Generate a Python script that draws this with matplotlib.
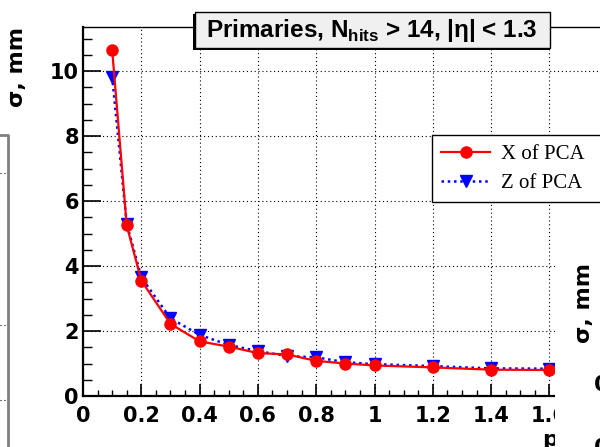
import matplotlib
matplotlib.use('Agg')
import matplotlib.pyplot as plt
from matplotlib.ticker import MultipleLocator, FuncFormatter
from matplotlib.patches import Rectangle
from matplotlib.lines import Line2D

# momentum points and resolution values (mm)
p = [0.1, 0.15, 0.2, 0.3, 0.4, 0.5, 0.6, 0.7, 0.8, 0.9, 1.0, 1.2, 1.4, 1.6]
x_pca = [10.65, 5.25, 3.55, 2.22, 1.68, 1.52, 1.32, 1.28, 1.08, 1.0, 0.94, 0.88, 0.81, 0.8]
z_pca = [9.83, 5.3, 3.65, 2.39, 1.88, 1.57, 1.38, 1.23, 1.19, 1.04, 0.98, 0.92, 0.85, 0.84]
labels = ['X of PCA', 'Z of PCA']
title = 'Primaries, N$_{\\mathbf{hits}}$ > 14, |η| < 1.3'

plt.rcParams['mathtext.fontset'] = 'custom'
plt.rcParams['mathtext.rm'] = 'Liberation Sans'
plt.rcParams['mathtext.bf'] = 'Liberation Sans:bold'

W, H = 600, 447
def fx(px):
    return px / W
def fy(py):
    return 1 - py / H

fig = plt.figure(figsize=(6, 4.47), dpi=100)
ax = fig.add_axes([fx(83), fy(396), (640 - 83) / W, (396 - 27) / H])

ax.plot(p, x_pca, color='red', lw=1.6, marker='o', ms=8, label=labels[0], zorder=4)
ax.plot(p, z_pca, color='blue', lw=1.8, ls=(0, (1, 1.5)), marker='v', ms=9,
        label=labels[1], zorder=3)

ax.set_xlim(0, 557 / 291.5)
ax.set_ylim(0, 369 / 32.5)
ax.xaxis.set_major_locator(MultipleLocator(0.2))
ax.xaxis.set_minor_locator(MultipleLocator(0.05))
ax.yaxis.set_major_locator(MultipleLocator(2))
ax.yaxis.set_minor_locator(MultipleLocator(0.5))
ax.xaxis.set_major_formatter(FuncFormatter(lambda v, pos: '%g' % round(v, 2)))
ax.yaxis.set_major_formatter(FuncFormatter(lambda v, pos: '%g' % round(v, 2)))

ax.grid(True, which='major', color='black', lw=0.8, ls=(0, (1, 2.5)))
ax.tick_params(axis='y', which='major', direction='in', length=13, width=1.2, pad=3)
ax.tick_params(axis='y', which='minor', direction='in', length=6.5, width=1)
ax.tick_params(axis='x', which='major', direction='in', length=8.5, width=1.2, pad=7)
ax.tick_params(axis='x', which='minor', direction='in', length=4.3, width=1)
for lab in ax.get_xticklabels() + ax.get_yticklabels():
    lab.set_fontweight('bold')
    lab.set_fontsize(15)
for s in ['left', 'bottom']:
    ax.spines[s].set_linewidth(1.6)
ax.spines['top'].set_linewidth(1.0)

# only the "p" of the x title is visible, the rest sits under the next panel
ax.set_xlabel('p', fontsize=16, fontweight='bold')
ax.xaxis.set_label_coords((542 - 83) / 557, -34 / 369, transform=ax.transAxes)
ax.xaxis.label.set_horizontalalignment('left')

fig.text(fx(17), fy(27), 'σ, mm', rotation=90, ha='center', va='top',
         fontsize=16, fontweight='bold')

leg = ax.legend(loc='upper left', mode='expand',
                bbox_to_anchor=(fx(432), fy(201), 250 / W, 66 / H),
                bbox_transform=fig.transFigure, borderaxespad=0,
                prop={'family': 'Liberation Serif', 'size': 15},
                handlelength=2.35, handletextpad=0.5, borderpad=0.45,
                labelspacing=0.45, fancybox=False, framealpha=1, edgecolor='black')
leg.get_frame().set_linewidth(1.0)

# title box with shadow
fig.patches.append(Rectangle((fx(193), fy(50)), 357 / W, 36 / H, transform=fig.transFigure,
                             facecolor='black', edgecolor='none', zorder=6))
fig.patches.append(Rectangle((fx(195), fy(48)), 355 / W, 36 / H, transform=fig.transFigure,
                             facecolor='#f0f0f0', edgecolor='black', lw=1, zorder=7))
fig.text(fx(372), fy(30), title, ha='center', va='center', fontsize=17.5,
         fontweight='bold', family='Liberation Sans', zorder=8)

# neighbouring panel on the right covers the lower right corner
fig.patches.append(Rectangle((fx(555), 0), 45 / W, (H - 205) / H, transform=fig.transFigure,
                             facecolor='white', edgecolor='none', zorder=5))
fig.text(fx(584), fy(303), 'σ, mm', rotation=90, ha='center', va='center',
         fontsize=16, fontweight='bold', zorder=8)
fig.text(fx(594), fy(385), '0', ha='left', va='center', fontsize=16,
         fontweight='bold', zorder=8)
fig.text(fx(594), fy(438), '0', ha='left', va='top', fontsize=16,
         fontweight='bold', zorder=8)

# edge of the neighbouring panel on the left
fig.lines.append(Line2D([fx(0), fx(8), fx(8)], [fy(135), fy(135), fy(447)],
                        transform=fig.transFigure, color='#808080', lw=2))
for gy in [173, 325, 400]:
    fig.lines.append(Line2D([fx(0), fx(6)], [fy(gy), fy(gy)], transform=fig.transFigure,
                            color='black', lw=0.8, ls=(0, (1, 2.5))))

fig.savefig('out.png', dpi=100)
